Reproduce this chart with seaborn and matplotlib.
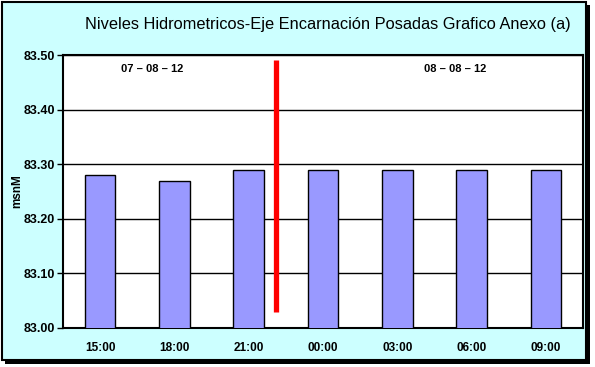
import pandas as pd
import matplotlib.pyplot as plt
import seaborn as sns
from matplotlib.patches import Rectangle

# Dati
horas = ['15:00', '18:00', '21:00', '00:00', '03:00', '06:00', '09:00']
niveles = [83.28, 83.27, 83.29, 83.29, 83.29, 83.29, 83.29]
fechas = ['07 – 08 – 12', '08 – 08 – 12']
fecha_x = [0.70, 4.78]
corte_x = 2.37          # linea rossa tra 21:00 e 00:00
corte_y = [83.03, 83.49]

df = pd.DataFrame({'Hora': horas, 'Nivel': niveles})

sns.set_theme(style="white")
plt.rcParams['font.family'] = ['Liberation Sans', 'DejaVu Sans']
plt.rcParams['text.color'] = 'black'
plt.rcParams['xtick.color'] = 'black'
plt.rcParams['ytick.color'] = 'black'
plt.rcParams['axes.labelcolor'] = 'black'

fig = plt.figure(figsize=(5.95, 3.67), dpi=100)
fig.patch.set_facecolor('white')

# cornice con ombra
fig.patches.append(Rectangle((5 / 595, 1 - 364 / 367), 585 / 595, 359 / 367,
                             transform=fig.transFigure, facecolor='black',
                             edgecolor='none', zorder=-3))
fig.patches.append(Rectangle((2 / 595, 1 - 360 / 367), 584 / 595, 358 / 367,
                             transform=fig.transFigure, facecolor='#CCFFFF',
                             edgecolor='black', linewidth=1.5, zorder=-2))

ax = fig.add_axes([63 / 595, 1 - 328 / 367, 520 / 595, 273 / 367])
ax.set_facecolor('white')

sns.barplot(data=df, x='Hora', y='Nivel', color='#9999FF', width=0.41,
            edgecolor='black', linewidth=1, saturation=1, ax=ax, zorder=3)

ax.set_ylim(83.0, 83.5)
ax.set_xlim(-0.5, len(horas) - 0.5)
ax.set_yticks([83.0, 83.1, 83.2, 83.3, 83.4, 83.5])
ax.set_yticklabels([f'{v:.2f}' for v in ax.get_yticks()], fontsize=9, fontweight='bold')
ax.yaxis.grid(True, color='black', linewidth=1)
ax.set_axisbelow(True)

ax.set_xticks(range(len(horas)))
ax.set_xticklabels(horas, fontsize=8.5, fontweight='bold')
ax.set_xticks([i + 0.5 for i in range(-1, len(horas))], minor=True)
ax.tick_params(axis='x', which='major', length=0, pad=10)
ax.tick_params(axis='x', which='minor', length=4, width=1, direction='out', color='black')
ax.tick_params(axis='y', length=4, width=1, direction='out', color='black', left=True, pad=2)

for s in ax.spines.values():
    s.set_color('black')
    s.set_linewidth(1.5)

ax.set_xlabel('')
ax.set_ylabel('msnM', fontsize=8.5, fontweight='bold', labelpad=0)

# linea di separazione tra i giorni
ax.plot([corte_x, corte_x], corte_y, color='red', linewidth=3.8, solid_capstyle='butt', zorder=5)

for fx, ft in zip(fecha_x, fechas):
    ax.text(fx, 83.475, ft, ha='center', va='center', fontsize=8, fontweight='bold', zorder=6)

fig.text(328 / 595, 1 - 24 / 367,
         'Niveles Hidrometricos-Eje Encarnación Posadas Grafico Anexo (a)',
         ha='center', va='center', fontsize=11.8)

fig.savefig('out.png', dpi=100)
